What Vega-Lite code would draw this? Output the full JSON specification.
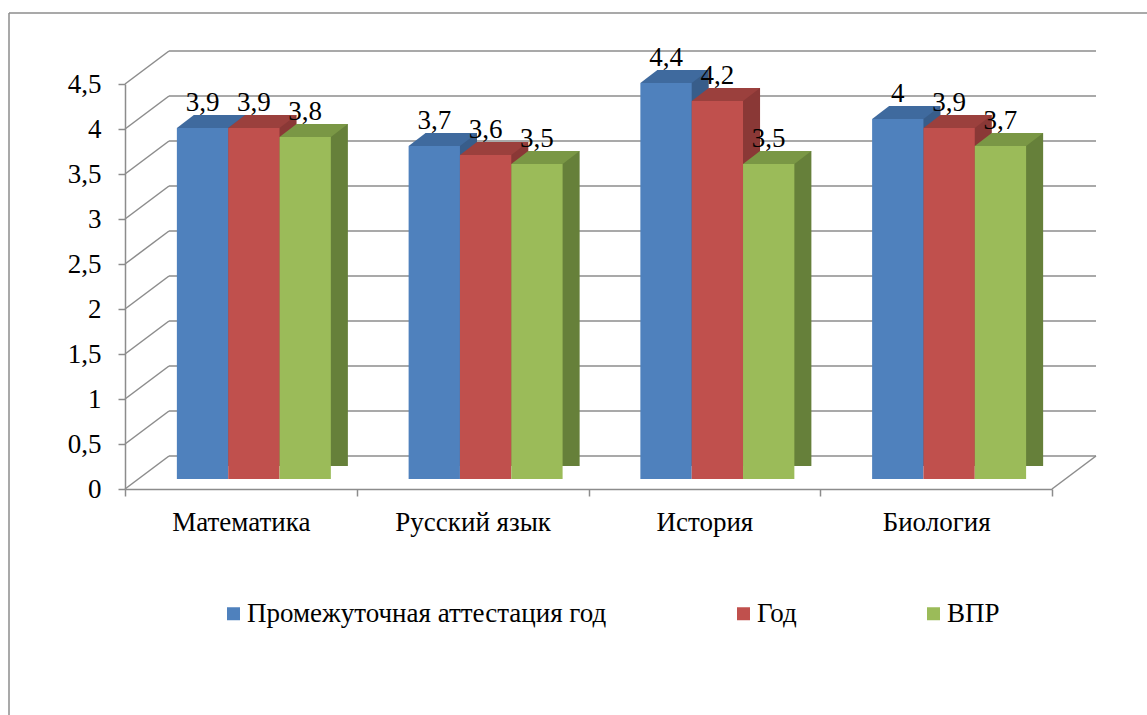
{
  "$schema": "https://vega.github.io/schema/vega-lite/v6.json",
  "width": 927,
  "height": 405,
  "autosize": {"type": "none"},
  "padding": {"left": 125, "top": 84, "right": 95, "bottom": 226},
  "background": "#ffffff",
  "config": {
    "font": "Liberation Serif, Times New Roman, serif",
    "view": {"stroke": null},
    "numberFormat": ".1~f",
    "locale": {"number": {"decimal": ",", "thousands": " ", "grouping": [3], "currency": ["", ""]}},
    "axis": {
      "labelColor": "#000000",
      "labelFont": "Liberation Serif, Times New Roman, serif",
      "labelFontSize": 27,
      "domainColor": "#8c8c8c",
      "tickColor": "#8c8c8c",
      "domainWidth": 1.5,
      "tickWidth": 1.5,
      "tickSize": 7,
      "grid": false,
      "title": null
    },
    "axisX": {"labelAngle": 0, "tickBand": "extent", "labelPadding": 13},
    "axisY": {"labelPadding": 17, "tickCount": 10}
  },
  "datasets": {
    "scores": [
      {"subject": "Математика", "series": "Промежуточная аттестация год", "value": 3.9},
      {"subject": "Математика", "series": "Год", "value": 3.9},
      {"subject": "Математика", "series": "ВПР", "value": 3.8},
      {"subject": "Русский язык", "series": "Промежуточная аттестация год", "value": 3.7},
      {"subject": "Русский язык", "series": "Год", "value": 3.6},
      {"subject": "Русский язык", "series": "ВПР", "value": 3.5},
      {"subject": "История", "series": "Промежуточная аттестация год", "value": 4.4},
      {"subject": "История", "series": "Год", "value": 4.2},
      {"subject": "История", "series": "ВПР", "value": 3.5},
      {"subject": "Биология", "series": "Промежуточная аттестация год", "value": 4},
      {"subject": "Биология", "series": "Год", "value": 3.9},
      {"subject": "Биология", "series": "ВПР", "value": 3.7}
    ],
    "ticks": [
      {"v": 0}, {"v": 0.5}, {"v": 1}, {"v": 1.5}, {"v": 2},
      {"v": 2.5}, {"v": 3}, {"v": 3.5}, {"v": 4}, {"v": 4.5}
    ],
    "one": [{"k": 1}]
  },
  "resolve": {"scale": {"xOffset": "independent", "color": "independent"}},
  "layer": [
    {
      "data": {"name": "scores"},
      "mark": {"type": "bar", "yOffset": -10, "y2Offset": -10, "strokeWidth": 0, "opacity": 0},
      "encoding": {
        "x": {"field": "subject", "type": "nominal", "sort": null,
              "scale": {"type": "band", "paddingInner": 0, "paddingOuter": 0, "domain": ["Математика", "Русский язык", "История", "Биология"]},
              "axis": {"labelAngle": 0, "tickBand": "extent", "tickSize": 7, "labelPadding": 13}},
        "y": {"field": "value", "type": "quantitative",
              "scale": {"domain": [0, 4.5], "nice": false, "zero": false},
              "axis": {"values": [0, 0.5, 1, 1.5, 2, 2.5, 3, 3.5, 4, 4.5], "format": ".1~f", "tickSize": 7, "labelPadding": 17}}
      }
    },
    {
      "data": {"name": "one"},
      "mark": {"type": "rule", "stroke": "#8c8c8c", "strokeWidth": 1.5, "xOffset": -116, "x2Offset": 95, "yOffset": -71, "y2Offset": -71},
      "encoding": {
        "x": {"datum": "Математика", "type": "nominal", "bandPosition": 0},
        "x2": {"datum": "Биология", "bandPosition": 1},
        "y": {"datum": 4.5, "type": "quantitative"},
        "y2": {"datum": 4.5}
      }
    },
    {
      "data": {"name": "one"},
      "mark": {"type": "rule", "stroke": "#8c8c8c", "strokeWidth": 1.5, "xOffset": -116, "x2Offset": -116, "yOffset": -71, "y2Offset": 226},
      "encoding": {
        "x": {"datum": "Математика", "type": "nominal", "bandPosition": 0},
        "x2": {"datum": "Математика", "bandPosition": 0},
        "y": {"datum": 4.5, "type": "quantitative"},
        "y2": {"datum": 0}
      }
    },
    {
      "data": {"name": "ticks"},
      "mark": {"type": "rule", "stroke": "#8c8c8c", "strokeWidth": 1.5, "xOffset": 44, "x2Offset": 44, "yOffset": -33, "y2Offset": -33},
      "encoding": {
        "x": {"datum": "Математика", "type": "nominal", "bandPosition": 0},
        "x2": {"datum": "Биология", "bandPosition": 1},
        "y": {"field": "v", "type": "quantitative"},
        "y2": {"field": "v"}
      }
    },
    {
      "data": {"name": "ticks"},
      "mark": {"type": "rule", "stroke": "#8c8c8c", "strokeWidth": 1.5, "x2Offset": 44, "y2Offset": -33},
      "encoding": {
        "x": {"datum": "Математика", "type": "nominal", "bandPosition": 0},
        "x2": {"datum": "Математика", "bandPosition": 0},
        "y": {"field": "v", "type": "quantitative"},
        "y2": {"field": "v"}
      }
    },
    {
      "data": {"name": "one"},
      "mark": {"type": "rule", "stroke": "#8c8c8c", "strokeWidth": 1.5, "x2Offset": 44, "y2Offset": -33},
      "encoding": {
        "x": {"datum": "Биология", "type": "nominal", "bandPosition": 1},
        "x2": {"datum": "Биология", "bandPosition": 1},
        "y": {"datum": 0, "type": "quantitative"},
        "y2": {"datum": 0}
      }
    },
    {
      "data": {"name": "scores"},
      "mark": {"type": "bar", "yOffset": -23, "y2Offset": -10, "strokeWidth": 0},
      "encoding": {
        "x": {"field": "subject", "type": "nominal"},
        "xOffset": {"field": "series", "type": "nominal",
                    "scale": {"type": "band", "domain": ["Промежуточная аттестация год", "Год", "ВПР"], "paddingInner": 0, "paddingOuter": 0.7575, "align": 0.886}},
        "y": {"field": "value", "type": "quantitative"},
        "color": {"field": "series", "type": "nominal", "legend": null,
                  "scale": {"domain": ["Промежуточная аттестация год", "Год", "ВПР"], "range": ["#385D8A", "#8A3836", "#66803A"]}}
      }
    },
    {
      "data": {"name": "scores"},
      "mark": {"type": "point", "shape": "M24.9,0.6L43.6,0.6L43.6,-13.6Z", "size": 4, "filled": true, "opacity": 1, "color": "#ffffff", "strokeWidth": 0, "yOffset": -10},
      "encoding": {
        "x": {"field": "subject", "type": "nominal"},
        "xOffset": {"field": "series", "type": "nominal",
                    "scale": {"type": "band", "domain": ["Промежуточная аттестация год", "Год", "ВПР"], "paddingInner": 0, "paddingOuter": 0.7575, "align": 0.667}},
        "y": {"datum": 0, "type": "quantitative"}
      }
    },
    {
      "data": {"name": "scores"},
      "mark": {"type": "point", "shape": "M-25.67,0L25.67,0L42.67,-13L-8.67,-13Z", "size": 4, "filled": true, "opacity": 1, "strokeWidth": 0, "yOffset": -10},
      "encoding": {
        "x": {"field": "subject", "type": "nominal"},
        "xOffset": {"field": "series", "type": "nominal",
                    "scale": {"type": "band", "domain": ["Промежуточная аттестация год", "Год", "ВПР"], "paddingInner": 0, "paddingOuter": 0.7575, "align": 0.667}},
        "y": {"field": "value", "type": "quantitative"},
        "color": {"field": "series", "type": "nominal", "legend": null,
                  "scale": {"domain": ["Промежуточная аттестация год", "Год", "ВПР"], "range": ["#3F6A9E", "#9B403D", "#7A9745"]}}
      }
    },
    {
      "data": {"name": "scores"},
      "mark": {"type": "bar", "yOffset": -10, "y2Offset": -10, "strokeWidth": 0},
      "encoding": {
        "x": {"field": "subject", "type": "nominal"},
        "xOffset": {"field": "series", "type": "nominal",
                    "scale": {"type": "band", "domain": ["Промежуточная аттестация год", "Год", "ВПР"], "paddingInner": 0, "paddingOuter": 0.7575, "align": 0.667}},
        "y": {"field": "value", "type": "quantitative"},
        "color": {"field": "series", "type": "nominal",
                  "scale": {"domain": ["Промежуточная аттестация год", "Год", "ВПР"], "range": ["#4F81BD", "#C0504D", "#9BBB59"]},
                  "legend": {"title": null, "orient": "none", "legendX": 95, "legendY": 516, "direction": "horizontal",
                             "symbolType": "square", "symbolSize": 169, "symbolStrokeWidth": 0, "labelFontSize": 27,
                             "labelFont": "Liberation Serif, Times New Roman, serif", "labelColor": "#000000", "labelLimit": 0, "labelOffset": 0,
                             "columnPadding": 123, "padding": 0}}
      }
    },
    {
      "data": {"name": "scores"},
      "mark": {"type": "text", "yOffset": -27, "baseline": "alphabetic", "align": "center", "fontSize": 27, "color": "#000000"},
      "encoding": {
        "x": {"field": "subject", "type": "nominal"},
        "xOffset": {"field": "series", "type": "nominal",
                    "scale": {"type": "band", "domain": ["Промежуточная аттестация год", "Год", "ВПР"], "paddingInner": 0, "paddingOuter": 0.7575, "align": 0.667}},
        "y": {"field": "value", "type": "quantitative"},
        "text": {"field": "value", "type": "quantitative", "format": ".1~f"}
      }
    }
  ]
}
